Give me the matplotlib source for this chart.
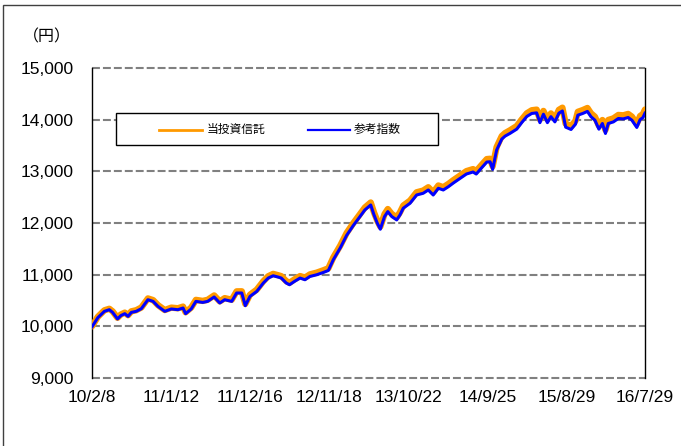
import matplotlib
matplotlib.use("Agg")
import matplotlib.pyplot as plt
from matplotlib.lines import Line2D
from matplotlib.patches import Rectangle
from matplotlib.ticker import FuncFormatter
import numpy as np

# values (yen), roughly every 2-4 weeks
dates = [
    "2010-02-08", "2010-03-05", "2010-04-02", "2010-04-23", "2010-05-07", "2010-05-28",
    "2010-06-11", "2010-06-28", "2010-07-12", "2010-07-26", "2010-08-16", "2010-09-07",
    "2010-10-05", "2010-10-27", "2010-11-17", "2010-12-16", "2011-01-13", "2011-02-10",
    "2011-03-04", "2011-03-15", "2011-04-08", "2011-04-28", "2011-05-27", "2011-06-17",
    "2011-07-15", "2011-08-08", "2011-08-29", "2011-09-28", "2011-10-19", "2011-11-10",
    "2011-11-25", "2011-12-15", "2012-01-13", "2012-02-10", "2012-03-02", "2012-03-23",
    "2012-04-13", "2012-04-27", "2012-05-18", "2012-06-01", "2012-06-22", "2012-07-16",
    "2012-08-06", "2012-08-27", "2012-09-25", "2012-10-23", "2012-11-14", "2012-12-05",
    "2013-01-04", "2013-01-31", "2013-03-01", "2013-03-29", "2013-04-19", "2013-05-14",
    "2013-05-28", "2013-06-11", "2013-06-24", "2013-07-12", "2013-07-26", "2013-08-12",
    "2013-09-02", "2013-09-16", "2013-09-30", "2013-10-29", "2013-11-26", "2013-12-24",
    "2014-01-15", "2014-02-05", "2014-02-27", "2014-03-20", "2014-04-11", "2014-05-02",
    "2014-05-30", "2014-06-27", "2014-07-25", "2014-08-08", "2014-08-29", "2014-09-22",
    "2014-10-06", "2014-10-17", "2014-11-03", "2014-11-25", "2014-12-09", "2014-12-30",
    "2015-01-28", "2015-02-18", "2015-03-12", "2015-04-02", "2015-04-23", "2015-05-07",
    "2015-05-22", "2015-06-08", "2015-06-23", "2015-07-10", "2015-07-27", "2015-08-11",
    "2015-08-25", "2015-09-17", "2015-10-06", "2015-10-16", "2015-11-06", "2015-11-26",
    "2015-12-11", "2015-12-28", "2016-01-14", "2016-01-29", "2016-02-11", "2016-02-23",
    "2016-03-16", "2016-04-06", "2016-04-27", "2016-05-18", "2016-06-03", "2016-06-24",
    "2016-07-08", "2016-07-20", "2016-07-29",
]

fundValues = [
    10000, 10185, 10310, 10340, 10290, 10165,
    10228, 10265, 10215, 10290, 10312, 10365,
    10540, 10508, 10410, 10315, 10362, 10350,
    10382, 10272, 10364, 10512, 10492, 10513,
    10598, 10483, 10546, 10515, 10677, 10678,
    10433, 10612, 10710, 10873, 10970, 11015,
    10990, 10971, 10876, 10843, 10908, 10973,
    10942, 11005, 11039, 11084, 11124, 11332,
    11564, 11806, 12000, 12171, 12300, 12397,
    12204, 12045, 11929, 12173, 12270, 12174,
    12110, 12207, 12337, 12434, 12594, 12628,
    12692, 12595, 12726, 12693, 12757, 12829,
    12916, 13004, 13043, 13005, 13115, 13237,
    13243, 13097, 13470, 13683, 13740, 13794,
    13877, 14003, 14123, 14182, 14194, 14004,
    14169, 14005, 14121, 14021, 14190, 14232,
    13920, 13875, 13978, 14152, 14186, 14226,
    14124, 14057, 13883, 13993, 13800, 13994,
    14025, 14091, 14084, 14111, 14059, 13918,
    14070, 14109, 14196,
]

indexValues = [
    9990, 10168, 10290, 10322, 10270, 10143,
    10207, 10245, 10193, 10270, 10290, 10342,
    10515, 10483, 10386, 10290, 10336, 10322,
    10355, 10245, 10336, 10483, 10463, 10483,
    10568, 10452, 10515, 10483, 10645, 10645,
    10400, 10579, 10676, 10838, 10934, 10979,
    10954, 10934, 10838, 10805, 10869, 10934,
    10902, 10965, 10998, 11042, 11081, 11288,
    11519, 11760, 11954, 12124, 12253, 12349,
    12156, 11996, 11880, 12124, 12220, 12124,
    12060, 12156, 12286, 12382, 12542, 12575,
    12639, 12542, 12672, 12639, 12703, 12774,
    12861, 12948, 12987, 12948, 13058, 13180,
    13185, 13039, 13411, 13624, 13681, 13734,
    13817, 13942, 14062, 14120, 14132, 13942,
    14106, 13942, 14058, 13957, 14126, 14168,
    13855, 13810, 13913, 14087, 14120, 14160,
    14058, 13990, 13816, 13926, 13733, 13926,
    13957, 14023, 14015, 14042, 13990, 13849,
    14000, 14039, 14126,
]

seriesNames = ["当投資信託", "参考指数"]
tickDates = ["2010-02-08", "2011-01-12", "2011-12-16", "2012-11-18",
             "2013-10-22", "2014-09-25", "2015-08-29", "2016-07-29"]
tickLabels = ["10/2/8", "11/1/12", "11/12/16", "12/11/18",
              "13/10/22", "14/9/25", "15/8/29", "16/7/29"]
yTicks = [9000, 10000, 11000, 12000, 13000, 14000, 15000]

plt.rcParams["font.family"] = ["Liberation Sans", "Noto Sans CJK JP", "DejaVu Sans"]

W, H = 681, 446
fig = plt.figure(figsize=(W / 100, H / 100), dpi=100)


def fpos(x, y):
    # pixel position in the 681x446 picture -> figure fraction
    return x / W, 1 - y / H


ax = fig.add_axes([92 / W, (H - 378) / H, (645 - 92) / W, (378 - 68) / H])

xs = np.array(dates, dtype="datetime64[D]")
ax.plot(xs, fundValues, color="#FF9900", lw=4.6, solid_joinstyle="round",
        solid_capstyle="round", zorder=3)
ax.plot(xs, indexValues, color="#0000FF", lw=2.2, solid_joinstyle="round", zorder=4)

ax.set_xlim(np.datetime64(tickDates[0]), np.datetime64(tickDates[-1]))
ax.set_ylim(yTicks[0], yTicks[-1])

# dashed grey gridlines, including top and bottom edge
for v in yTicks:
    ax.axhline(v, color="#808080", lw=1.5, linestyle=(0, (3.8, 1.45)),
               clip_on=False, zorder=1)

ax.set_yticks(yTicks)
ax.yaxis.set_major_formatter(FuncFormatter(lambda v, p: f"{int(v):,}"))
ax.set_xticks(np.array(tickDates, dtype="datetime64[D]"))
ax.set_xticklabels(tickLabels)
ax.tick_params(axis="both", length=0, labelsize=12.5, colors="black")
ax.tick_params(axis="y", pad=13.5)
ax.tick_params(axis="x", pad=9)

ax.spines["top"].set_visible(False)
ax.spines["bottom"].set_visible(False)
for side in ("left", "right"):
    ax.spines[side].set_color("black")
    ax.spines[side].set_linewidth(1.0)

# legend box drawn by hand (wide box, small padding)
x0, y0 = fpos(116, 145)
x1, y1 = fpos(438, 113)
ax.add_patch(Rectangle((x0, y0), x1 - x0, y1 - y0, transform=fig.transFigure,
                       facecolor="white", edgecolor="black", lw=1.0,
                       clip_on=False, zorder=6))
legendItems = [(159, 202, 207, "#FF9900", 2.0), (308, 350, 354, "#0000FF", 1.6)]
for (hx0, hx1, tx, col, lw), name in zip(legendItems, seriesNames):
    a, b = fpos(hx0, 129.5)
    c, _ = fpos(hx1, 129.5)
    ax.add_line(Line2D([a, c], [b, b], transform=fig.transFigure, color=col,
                       lw=lw, clip_on=False, zorder=7))
    t, ty = fpos(tx, 129.5)
    fig.text(t, ty, name, ha="left", va="center", fontsize=8.5,
             family=["Noto Sans CJK JP"], zorder=8)

# unit label
ux, uy = fpos(47, 37)
fig.text(ux, uy, "（円）", ha="center", va="center", fontsize=11.5,
         family=["Noto Sans CJK JP"])

# outer frame (only left and top edges fall inside the picture)
fx, fy = fpos(3, 5)
fig.add_artist(Rectangle((fx, -0.1), 1.2, fy + 0.1, transform=fig.transFigure,
                         fill=False, edgecolor="#404040", lw=1.0))

fig.savefig("out.png", dpi=100)
